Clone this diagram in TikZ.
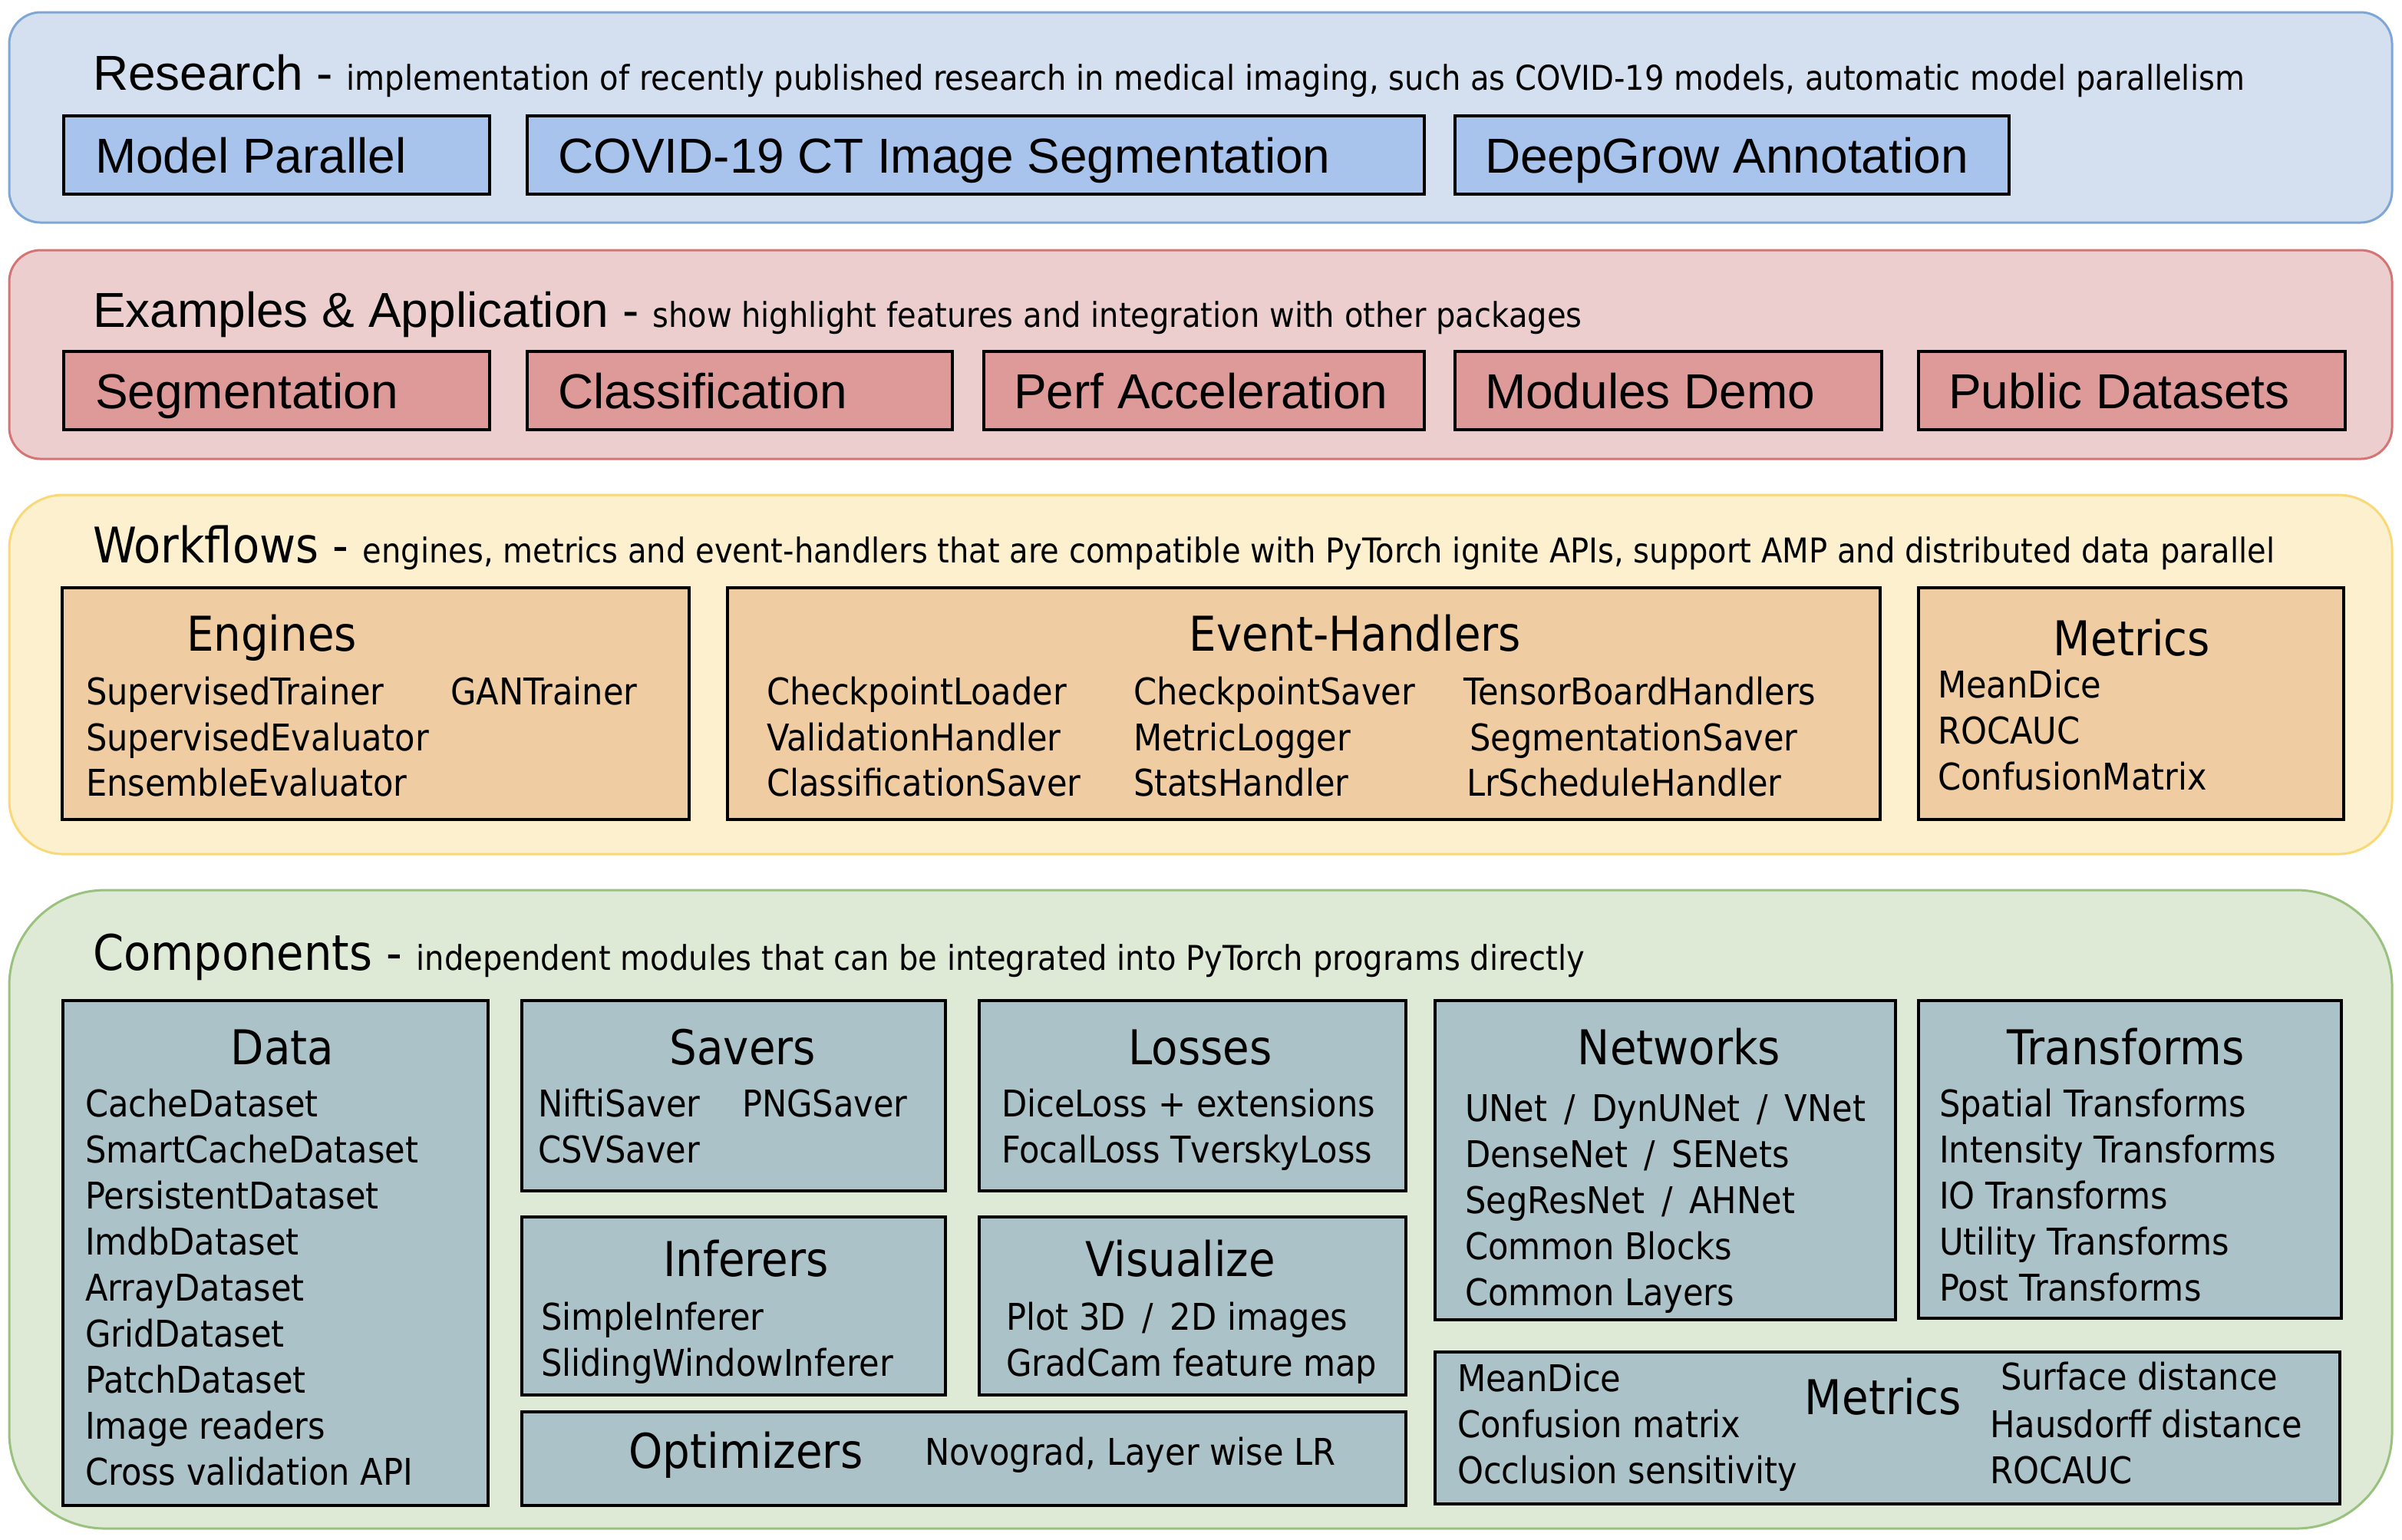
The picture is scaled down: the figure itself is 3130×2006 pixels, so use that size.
\documentclass[tikz,border=0pt]{standalone}
\usepackage{fontspec}
\newfontfamily\arialf{Liberation Sans}
\newfontfamily\bodyf{DejaVu Sans}[FakeStretch=0.9]
\newcommand\subtxt[1]{{\bodyf\fontsize{8.9}{11}\selectfont #1}}
\newcommand\sls{\hspace{0.45em}/\hspace{0.45em}}
\definecolor{rbg}{RGB}{212,224,240}
\definecolor{rbd}{RGB}{126,166,214}
\definecolor{rin}{RGB}{169,196,236}
\definecolor{ebg}{RGB}{236,206,206}
\definecolor{ebd}{RGB}{213,116,115}
\definecolor{ein}{RGB}{221,154,153}
\definecolor{wbg}{RGB}{253,240,207}
\definecolor{wbd}{RGB}{249,217,119}
\definecolor{win}{RGB}{240,204,162}
\definecolor{cbg}{RGB}{222,233,214}
\definecolor{cbd}{RGB}{153,194,126}
\definecolor{cin}{RGB}{170,194,200}
\begin{document}
\begin{tikzpicture}[x=0.2pt,y=-0.2pt,
  outerbox/.style={line width=0.6pt},
  innerbox/.style={line width=0.8pt, draw=black},
  ttl/.style={font=\arialf\fontsize{12.8}{15}\selectfont, inner sep=0, anchor=base west},
  sectl/.style={font=\bodyf\fontsize{12.8}{15}\selectfont, inner sep=0, anchor=base west},
  btl/.style={font=\bodyf\fontsize{12.5}{15}\selectfont, inner sep=0, anchor=base},
  itm/.style={font=\bodyf\fontsize{9.6}{12}\selectfont, inner sep=0, anchor=base west}]
\useasboundingbox (0,0) rectangle (3130,2006);

% ---------------- Research
\draw[outerbox, draw=rbd, fill=rbg, rounded corners=8.2pt] (12,16) rectangle (3117,290);
\node[ttl] (rtitle) at (120,117) {Research - \subtxt{implementation of recently published research in medical imaging, such as COVID-19 models, automatic model parallelism}};
\draw[innerbox, fill=rin] (83,151) rectangle (638,253);
\draw[innerbox, fill=rin] (687,151) rectangle (1856,253);
\draw[innerbox, fill=rin] (1896,151) rectangle (2618,253);
\node[ttl] (mp) at (123,225) {Model Parallel};
\node[ttl] (covid) at (726,225) {COVID-19 CT Image Segmentation};
\node[ttl] (dg) at (1934,225) {DeepGrow Annotation};

% ---------------- Examples
\draw[outerbox, draw=ebd, fill=ebg, rounded corners=8.2pt] (12,326) rectangle (3117,598);
\node[ttl] (etitle) at (120,426) {Examples \& Application - \subtxt{show highlight features and integration with other packages}};
\draw[innerbox, fill=ein] (83,458) rectangle (638,560);
\draw[innerbox, fill=ein] (687,458) rectangle (1241,560);
\draw[innerbox, fill=ein] (1282,458) rectangle (1856,560);
\draw[innerbox, fill=ein] (1896,458) rectangle (2452,560);
\draw[innerbox, fill=ein] (2500,458) rectangle (3056,560);
\node[ttl] (seg) at (123,532) {Segmentation};
\node[ttl] (cls) at (726,532) {Classification};
\node[ttl] (perf) at (1320,532) {Perf Acceleration};
\node[ttl] (mod) at (1934,532) {Modules Demo};
\node[ttl] (pub) at (2538,532) {Public Datasets};

% ---------------- Workflows
\draw[outerbox, draw=wbd, fill=wbg, rounded corners=14pt] (12,645) rectangle (3117,1113);
\node[sectl] (wtitle) at (120,733) {Workflows - \subtxt{engines, metrics and event-handlers that are compatible with PyTorch ignite APIs, support AMP and distributed data parallel}};
\draw[innerbox, fill=win] (81,766) rectangle (898,1068);
\draw[innerbox, fill=win] (948,766) rectangle (2450,1068);
\draw[innerbox, fill=win] (2500,766) rectangle (3054,1068);
\node[btl, anchor=base west] (engt) at (242,848) {Engines};
\node[itm] (eng1) at (111,918) {SupervisedTrainer};
\node[itm] (eng2) at (586,918) {GANTrainer};
\node[itm] (eng3) at (111,978) {SupervisedEvaluator};
\node[itm] (eng4) at (111,1037) {EnsembleEvaluator};
\node[btl] (evt) at (1766,848) {Event-Handlers};
\node[itm] (ev1) at (998,918) {CheckpointLoader};
\node[itm] (ev2) at (998,978) {ValidationHandler};
\node[itm] (ev3) at (998,1037) {ClassificationSaver};
\node[itm] (ev4) at (1476,918) {CheckpointSaver};
\node[itm] (ev5) at (1476,978) {MetricLogger};
\node[itm] (ev6) at (1476,1037) {StatsHandler};
\node[itm] (ev7) at (1906,918) {TensorBoardHandlers};
\node[itm] (ev8) at (1914,978) {SegmentationSaver};
\node[itm] (ev9) at (1910,1037) {LrScheduleHandler};
\node[btl] (wmt) at (2778,854) {Metrics};
\node[itm] (wm1) at (2524,909) {MeanDice};
\node[itm] (wm2) at (2524,969) {ROCAUC};
\node[itm] (wm3) at (2524,1029) {ConfusionMatrix};

% ---------------- Components
\draw[outerbox, draw=cbd, fill=cbg, rounded corners=25pt] (12,1160) rectangle (3117,1992);
\node[sectl] (ctitle) at (120,1264) {Components - \subtxt{independent modules that can be integrated into PyTorch programs directly}};
\draw[innerbox, fill=cin] (82,1304) rectangle (636,1962);
\draw[innerbox, fill=cin] (680,1304) rectangle (1232,1552);
\draw[innerbox, fill=cin] (1276,1304) rectangle (1832,1552);
\draw[innerbox, fill=cin] (680,1586) rectangle (1232,1818);
\draw[innerbox, fill=cin] (1276,1586) rectangle (1832,1818);
\draw[innerbox, fill=cin] (680,1840) rectangle (1832,1962);
\draw[innerbox, fill=cin] (1870,1304) rectangle (2470,1720);
\draw[innerbox, fill=cin] (2500,1304) rectangle (3051,1718);
\draw[innerbox, fill=cin] (1870,1762) rectangle (3049,1960);

\node[btl] (datat) at (368,1387) {Data};
\foreach \t [count=\i from 0] in {{CacheDataset},{SmartCacheDataset},{PersistentDataset},{ImdbDataset},{ArrayDataset},{GridDataset},{PatchDataset},{Image readers},{Cross validation API}}
  \node[itm] (data\i) at (110,{1455+60*\i}) {\t};

\node[btl] (savt) at (968,1387) {Savers};
\node[itm] (sav1) at (700,1455) {NiftiSaver};
\node[itm] (sav2) at (966,1455) {PNGSaver};
\node[itm] (sav3) at (700,1515) {CSVSaver};

\node[btl] (lost) at (1564,1387) {Losses};
\node[itm] (los1) at (1304,1455) {DiceLoss + extensions};
\node[itm] (los2) at (1304,1515) {FocalLoss TverskyLoss};

\node[btl] (inft) at (972,1663) {Inferers};
\node[itm] (inf1) at (704,1733) {SimpleInferer};
\node[itm] (inf2) at (704,1793) {SlidingWindowInferer};

\node[btl] (vist) at (1538,1663) {Visualize};
\node[itm] (vis1) at (1310,1733) {Plot 3D\sls 2D images};
\node[itm] (vis2) at (1310,1793) {GradCam feature map};

\node[btl] (optt) at (972,1913) {Optimizers};
\node[itm] (opt1) at (1204,1909) {Novograd, Layer wise LR};

\node[btl] (nett) at (2188,1387) {Networks};
\foreach \t [count=\i from 0] in {{UNet\sls DynUNet\sls VNet},{DenseNet\sls SENets},{SegResNet\sls AHNet},{Common Blocks},{Common Layers}}
  \node[itm] (net\i) at (1908,{1461+60*\i}) {\t};

\node[btl] (trt) at (2770,1387) {Transforms};
\foreach \t [count=\i from 0] in {{Spatial Transforms},{Intensity Transforms},{IO Transforms},{Utility Transforms},{Post Transforms}}
  \node[itm] (tr\i) at (2526,{1455+60*\i}) {\t};

\node[btl] (cmt) at (2454,1843) {Metrics};
\node[itm] (cm1) at (1898,1813) {MeanDice};
\node[itm] (cm2) at (1898,1873) {Confusion matrix};
\node[itm] (cm3) at (1898,1933) {Occlusion sensitivity};
\node[itm] (cm4) at (2606,1811) {Surface distance};
\node[itm] (cm5) at (2592,1873) {Hausdorff distance};
\node[itm] (cm6) at (2592,1933) {ROCAUC};
\end{tikzpicture}
\end{document}
